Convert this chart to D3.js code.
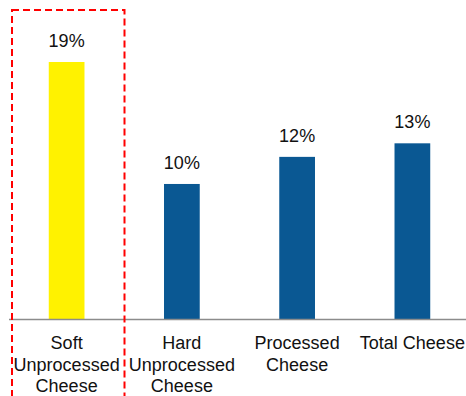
<!DOCTYPE html>
<html>
<head>
<meta charset="utf-8">
<script src="https://cdn.jsdelivr.net/npm/d3@7/dist/d3.min.js"></script>
<style>
  html, body { margin: 0; padding: 0; background: #fff; }
  svg { display: block; }
  text { font-family: "Liberation Sans", Arial, sans-serif; fill: #111; }
</style>
</head>
<body>
<svg id="chart" width="466" height="396"></svg>
<script>
// Cheese categories and their shares (%)
const categories = [
  ["Soft", "Unprocessed", "Cheese"],
  ["Hard", "Unprocessed", "Cheese"],
  ["Processed", "Cheese"],
  ["Total Cheese"]
];
const values = [19, 10, 12, 13];
const valueLabels = ["19%", "10%", "12%", "13%"];
const highlighted = [true, false, false, false];

const W = 466, H = 396;
const baseY = 319.5;
const svg = d3.select("#chart");

const x = d3.scaleBand()
  .domain(d3.range(categories.length))
  .range([9, 470])
  .paddingInner(0.69)
  .paddingOuter(0.345);

const y = d3.scaleLinear()
  .domain([0, 19])
  .range([baseY, 62]);

// bars
svg.selectAll("rect.bar")
  .data(values)
  .join("rect")
  .attr("class", "bar")
  .attr("x", (d, i) => x(i))
  .attr("width", x.bandwidth())
  .attr("y", d => y(d))
  .attr("height", d => baseY - y(d))
  .attr("fill", (d, i) => highlighted[i] ? "#FFF200" : "#0A5893");

// value labels
svg.selectAll("text.val")
  .data(values)
  .join("text")
  .attr("class", "val")
  .attr("x", (d, i) => x(i) + x.bandwidth() / 2)
  .attr("y", d => y(d) - 15)
  .attr("text-anchor", "middle")
  .attr("font-size", 18)
  .text((d, i) => valueLabels[i]);

// baseline axis
const xAxis = d3.axisBottom(x).tickSize(0).tickFormat("");
const axisG = svg.append("g")
  .attr("transform", `translate(0,${baseY})`)
  .call(xAxis);
axisG.select(".domain")
  .attr("d", `M9,0H466`)
  .attr("stroke", "#8c8c8c")
  .attr("stroke-width", 1.6);

// multi-line category labels
categories.forEach((lines, i) => {
  const t = svg.append("text")
    .attr("x", x(i) + x.bandwidth() / 2)
    .attr("y", 349)
    .attr("text-anchor", "middle")
    .attr("font-size", 18);
  lines.forEach((ln, j) => {
    t.append("tspan")
      .attr("x", x(i) + x.bandwidth() / 2)
      .attr("dy", j === 0 ? 0 : 21.5)
      .text(ln);
  });
});

// dashed highlight frame around the first category
svg.append("rect")
  .attr("x", 12)
  .attr("y", 10)
  .attr("width", 112.5)
  .attr("height", 400)
  .attr("fill", "none")
  .attr("stroke", "#FF0000")
  .attr("stroke-width", 2)
  .attr("stroke-dasharray", "7,4");
</script>
</body>
</html>
